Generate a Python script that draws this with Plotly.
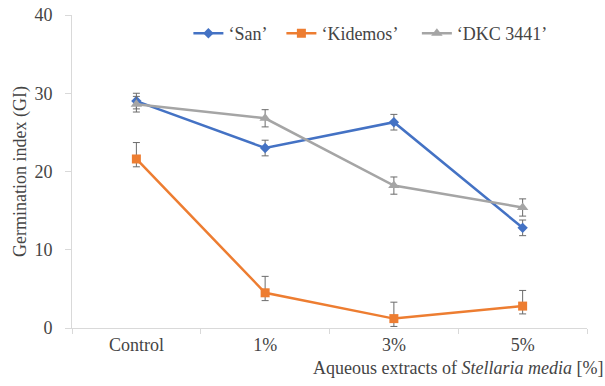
import plotly.graph_objects as go

# Treatments and germination index per cultivar
categories = ["Control", "1%", "3%", "5%"]

san = [29.0, 23.0, 26.3, 12.8]
san_err = [1.0, 1.0, 1.0, 1.0]

kidemos = [21.6, 4.5, 1.2, 2.8]
kidemos_err_plus = [2.1, 2.1, 2.1, 2.0]
kidemos_err_minus = [1.0, 1.0, 1.0, 1.0]

dkc = [28.6, 26.8, 18.2, 15.4]
dkc_err = [1.0, 1.1, 1.1, 1.1]

FONT = "Liberation Serif"
ERR_COLOR = "#6b6b6b"
NBSP = "\u00a0"

fig = go.Figure()

fig.add_trace(go.Scatter(
    x=categories, y=san, name="‘San’" + NBSP * 2, mode="lines+markers",
    line=dict(color="#4472C4", width=2.5),
    marker=dict(symbol="diamond", size=8, color="#4472C4"),
    error_y=dict(type="data", array=san_err, color=ERR_COLOR, thickness=1, width=3.5),
))
fig.add_trace(go.Scatter(
    x=categories, y=kidemos, name="‘Kidemos’" + NBSP * 3, mode="lines+markers",
    line=dict(color="#ED7D31", width=2.5),
    marker=dict(symbol="square", size=9, color="#ED7D31"),
    error_y=dict(type="data", array=kidemos_err_plus, arrayminus=kidemos_err_minus,
                 symmetric=False, color=ERR_COLOR, thickness=1, width=3.5),
))
fig.add_trace(go.Scatter(
    x=categories, y=dkc, name="‘DKC 3441’", mode="lines+markers",
    line=dict(color="#A5A5A5", width=2.5),
    marker=dict(symbol="triangle-up", size=10, color="#A5A5A5"),
    error_y=dict(type="data", array=dkc_err, color=ERR_COLOR, thickness=1, width=3.5),
))

fig.update_layout(
    template="none",
    width=605, height=386,
    margin=dict(l=72, r=18, t=15, b=58),
    paper_bgcolor="white", plot_bgcolor="white",
    font=dict(family=FONT, size=18),
    showlegend=True,
    legend=dict(orientation="h", x=0.226, y=1.0, xanchor="left", yanchor="top",
                font=dict(family=FONT, size=18), bgcolor="rgba(0,0,0,0)"),
    xaxis=dict(
        type="category", showgrid=False, zeroline=False, automargin=False,
        showline=True, linecolor="#D9D9D9", linewidth=1,
        ticks="outside", tickson="boundaries", ticklen=5, tickcolor="#D9D9D9",
        tickfont=dict(family=FONT, size=18), range=[-0.5, 3.5],
    ),
    yaxis=dict(
        range=[0, 40], dtick=10, showgrid=False, zeroline=False, automargin=False,
        showline=True, linecolor="#D9D9D9", linewidth=1,
        ticks="outside", ticklen=6, tickcolor="#D9D9D9",
        tickfont=dict(family=FONT, size=18), ticksuffix=NBSP * 2,
    ),
    annotations=[
        dict(text="Germination index (GI)", xref="paper", yref="paper",
             x=-0.10, y=0.5, xanchor="center", yanchor="middle",
             textangle=-90, showarrow=False, font=dict(family=FONT, size=18)),
        dict(text="Aqueous extracts of <i>Stellaria media</i> [%]", xref="paper", yref="paper",
             x=1.035, y=-0.09, xanchor="right", yanchor="top",
             showarrow=False, font=dict(family=FONT, size=18)),
    ],
)

fig.write_html("out.html")
